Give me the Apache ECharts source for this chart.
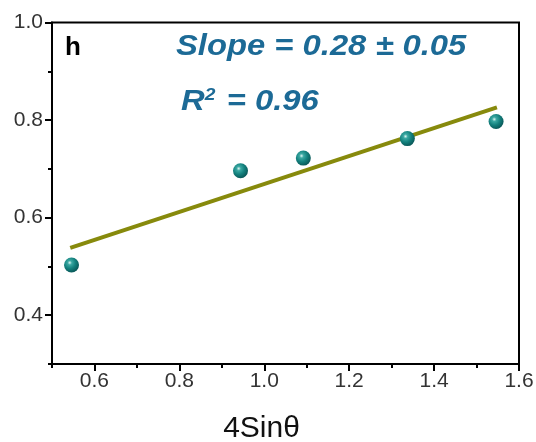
<!DOCTYPE html>
<html>
<head>
<meta charset="utf-8">
<script src="https://cdn.jsdelivr.net/npm/echarts@6/dist/echarts.min.js"></script>
<style>
html,body{margin:0;padding:0;background:#fff;}
#chart{width:536px;height:442px;}
</style>
</head>
<body>
<div id="chart"></div>
<script>
// Data
const pointsX = [0.546, 0.944, 1.092, 1.337, 1.546];
const pointsY = [0.503, 0.696, 0.722, 0.762, 0.797];
const fitX = [0.543, 1.548];
const fitY = [0.538, 0.826];
const xMajorTicks = [0.6, 0.8, 1.0, 1.2, 1.4, 1.6];
const xMinorTicks = [0.5, 0.7, 0.9, 1.1, 1.3, 1.5];
const yMajorTicks = [0.4, 0.6, 0.8, 1.0];
const yMinorTicks = [0.3, 0.5, 0.7, 0.9];
const xTitle = '4Sinθ';
const panelLabel = 'h';
const slopeText = 'Slope = 0.28 ± 0.05';
const r2Value = '0.96';

const FONT = 'Arial, "Liberation Sans", sans-serif';
const chart = echarts.init(document.getElementById('chart'), null, {renderer: 'canvas'});

const axisLineStyle = {color: '#000', width: 2};
const sphere = new echarts.graphic.RadialGradient(0.38, 0.35, 0.65, [
  {offset: 0, color: '#dff6f3'},
  {offset: 0.22, color: '#3aa8a2'},
  {offset: 0.6, color: '#13807d'},
  {offset: 1, color: '#0a5a5a'}
]);

const option = {
  backgroundColor: '#fff',
  animation: false,
  grid: [
    {left: 52, right: 17, top: 22.5, bottom: 78, containLabel: false, outerBoundsMode: 'none',
     show: true, borderColor: '#000', borderWidth: 2, backgroundColor: 'transparent'}
  ],
  xAxis: [
    {
      type: 'value', min: 0.5, max: 1.6, gridIndex: 0,
      axisLine: {show: true, onZero: false, lineStyle: axisLineStyle},
      axisTick: {show: true, inside: false, length: 7, lineStyle: {color: '#000', width: 2}, customValues: xMajorTicks},
      axisLabel: {show: true, customValues: xMajorTicks, color: '#333', fontSize: 21, fontFamily: FONT, margin: 7,
        formatter: v => v.toFixed(1)},
      splitLine: {show: false},
      name: xTitle, nameLocation: 'middle', nameGap: 50,
      nameTextStyle: {color: '#111', fontSize: 30, fontFamily: FONT, padding: [0, 48, 0, 0]}
    },
    {
      type: 'value', min: 0.5, max: 1.6, gridIndex: 0, position: 'bottom',
      axisLine: {show: false, onZero: false},
      axisTick: {show: true, length: 4, lineStyle: {color: '#000', width: 2}, customValues: xMinorTicks},
      axisLabel: {show: false},
      splitLine: {show: false}
    }
  ],
  yAxis: [
    {
      type: 'value', min: 0.3, max: 1.0, gridIndex: 0,
      axisLine: {show: true, onZero: false, lineStyle: axisLineStyle},
      axisTick: {show: true, length: 7, lineStyle: {color: '#000', width: 2}, customValues: yMajorTicks},
      axisLabel: {show: true, customValues: yMajorTicks, color: '#333', fontSize: 21, fontFamily: FONT, margin: 9,
        formatter: v => v.toFixed(1)},
      splitLine: {show: false}
    },
    {
      type: 'value', min: 0.3, max: 1.0, gridIndex: 0, position: 'left',
      axisLine: {show: false, onZero: false},
      axisTick: {show: true, length: 4, lineStyle: {color: '#000', width: 2}, customValues: yMinorTicks},
      axisLabel: {show: false},
      splitLine: {show: false}
    }
  ],
  series: [
    {
      type: 'line', xAxisIndex: 0, yAxisIndex: 0,
      data: fitX.map((x, i) => [x, fitY[i]]),
      showSymbol: false, symbol: 'none',
      lineStyle: {color: '#878a0c', width: 4},
      z: 2
    },
    {
      type: 'scatter', xAxisIndex: 0, yAxisIndex: 0,
      data: pointsX.map((x, i) => [x, pointsY[i]]),
      symbol: 'circle', symbolSize: 15,
      itemStyle: {color: sphere, opacity: 1},
      z: 3
    }
  ],
  graphic: [
    {type: 'text', x: 65, y: 35, style: {text: panelLabel, font: 'bold 26px ' + FONT, fill: '#000'}},
    {type: 'text', x: 176, y: 32, scaleX: 1.13, style: {text: slopeText, font: 'italic bold 29px ' + FONT, fill: '#1c6a96'}},
    {type: 'text', x: 181, y: 84, scaleX: 1.13, style: {
      text: '{a|R}{s|2}{a| = ' + r2Value + '}',
      rich: {
        a: {font: 'italic bold 29px ' + FONT, fill: '#1c6a96', verticalAlign: 'bottom', lineHeight: 32},
        s: {font: 'italic bold 17px ' + FONT, fill: '#1c6a96', verticalAlign: 'top', lineHeight: 32, padding: [3, 2, 0, 0]}
      }
    }}
  ]
};
chart.setOption(option);
</script>
</body>
</html>
